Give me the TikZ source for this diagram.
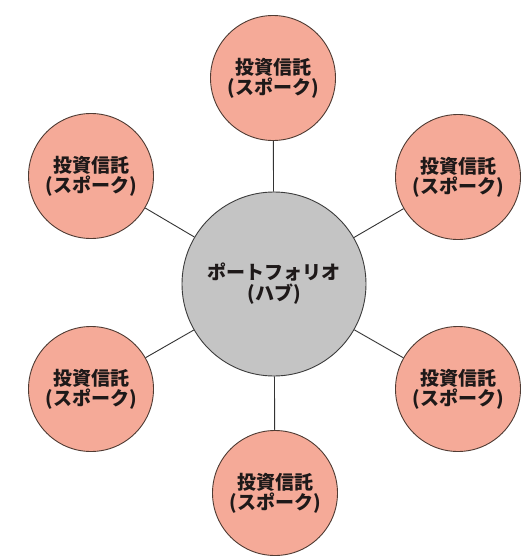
\documentclass[tikz,border=0pt]{standalone}
\usepackage{fontspec}
\newfontfamily\cjk{Noto Sans CJK JP}
\definecolor{spokefill}{RGB}{245,170,152}
\definecolor{spokeline}{RGB}{80,60,52}
\definecolor{hubfill}{RGB}{196,196,196}
\definecolor{hubline}{RGB}{60,60,60}
\definecolor{txt}{RGB}{30,25,25}
\begin{document}
\begin{tikzpicture}[x=1pt,y=-1pt,
  spoke/.style={circle,draw=spokeline,fill=spokefill,line width=0.9pt,minimum size=125pt,inner sep=0pt,
    align=center,text=txt,font=\cjk\bfseries\fontsize{19}{20}\selectfont},
  hub/.style={circle,draw=hubline,fill=hubfill,line width=0.9pt,minimum size=184pt,inner sep=0pt,
    align=center,text=txt,font=\cjk\bfseries\fontsize{19}{21}\selectfont},
  link/.style={draw=black!80,line width=0.9pt}]
\fill[white] (0,0) rectangle (526,560);
\useasboundingbox (0,0) rectangle (526,560);
\node[hub] (hub) at (274,284) {ポートフォリオ\\(ハブ)};
\node[spoke] (top) at (273,78) {投資信託\\(スポーク)};
\node[spoke] (ur) at (458,177) {投資信託\\(スポーク)};
\node[spoke] (lr) at (458,389) {投資信託\\(スポーク)};
\node[spoke] (bot) at (275,493) {投資信託\\(スポーク)};
\node[spoke] (ll) at (91,389) {投資信託\\(スポーク)};
\node[spoke] (ul) at (91,176) {投資信託\\(スポーク)};
\foreach \s in {top,ur,lr,bot,ll,ul}{\draw[link] (hub) -- (\s);}
\end{tikzpicture}
\end{document}
